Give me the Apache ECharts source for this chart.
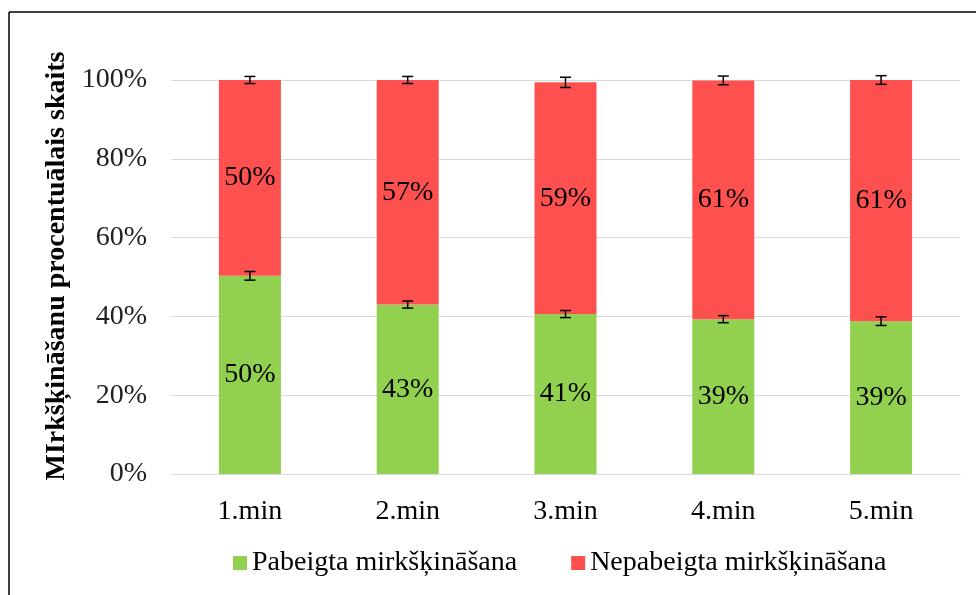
<!DOCTYPE html>
<html>
<head>
<meta charset="utf-8">
<script src="https://cdn.jsdelivr.net/npm/echarts@6/dist/echarts.min.js"></script>
<style>html,body{margin:0;padding:0;background:#fff;}#c{width:976px;height:595px;}</style>
</head>
<body>
<div id="c"></div>
<script>
var categories = ['1.min', '2.min', '3.min', '4.min', '5.min'];
var completed = [50.3, 43.0, 40.6, 39.3, 38.8];
var notCompleted = [49.7, 57.0, 58.8, 60.6, 61.2];
var completedLabels = ['50%', '43%', '41%', '39%', '39%'];
var notCompletedLabels = ['50%', '57%', '59%', '61%', '61%'];
var completedErr = [1.1, 0.9, 0.9, 0.9, 1.1];
var notCompletedErr = [0.9, 0.9, 1.3, 1.1, 1.1];
var yTicks = [0, 20, 40, 60, 80, 100];

var serif = '"Liberation Serif", "DejaVu Serif", serif';
var chart = echarts.init(document.getElementById('c'));

function errSeries(name, centers, errs) {
  return {
    type: 'custom',
    name: name,
    silent: true,
    z: 10,
    data: centers.map(function (c, i) { return [i, c, errs[i]]; }),
    renderItem: function (params, api) {
      var x = api.value(0), c = api.value(1), e = api.value(2);
      var hi = api.coord([x, c + e]);
      var lo = api.coord([x, c - e]);
      var hw = 5.5;
      var st = { stroke: '#000', lineWidth: 1.5 };
      return {
        type: 'group',
        children: [
          { type: 'line', shape: { x1: hi[0], y1: hi[1], x2: lo[0], y2: lo[1] }, style: st },
          { type: 'line', shape: { x1: hi[0] - hw, y1: hi[1], x2: hi[0] + hw, y2: hi[1] }, style: st },
          { type: 'line', shape: { x1: lo[0] - hw, y1: lo[1], x2: lo[0] + hw, y2: lo[1] }, style: st }
        ]
      };
    }
  };
}

var totals = completed.map(function (v, i) { return v + notCompleted[i]; });

chart.setOption({
  animation: false,
  backgroundColor: '#fff',
  textStyle: { fontFamily: serif },
  grid: { left: 171, right: 16, top: 80, bottom: 121 },
  legend: {
    top: 544,
    left: 228,
    icon: 'rect',
    itemWidth: 14,
    itemHeight: 14,
    itemGap: 54,
    data: ['Pabeigta mirkšķināšana', 'Nepabeigta mirkšķināšana'],
    textStyle: { fontFamily: serif, fontSize: 28, color: '#000' }
  },
  xAxis: {
    type: 'category',
    data: categories,
    axisLine: { show: true, lineStyle: { color: '#d9d9d9', width: 1.2 } },
    axisTick: { show: false },
    axisLabel: { fontFamily: serif, fontSize: 28, color: '#000', margin: 24 }
  },
  yAxis: {
    type: 'value',
    min: 0,
    max: 100,
    interval: 20,
    name: 'MIrkšķināšanu procentuālais skaits',
    nameLocation: 'middle',
    nameGap: 86,
    nameTextStyle: { fontFamily: serif, fontSize: 28, fontWeight: 'bold', color: '#000', padding: [0, 0, 0, 22] },
    axisLine: { show: false },
    axisTick: { show: false },
    splitLine: { lineStyle: { color: '#d9d9d9', width: 1.2 } },
    axisLabel: {
      fontFamily: serif, fontSize: 28, color: '#222', margin: 24,
      formatter: function (v) { return yTicks.indexOf(v) >= 0 ? v + '%' : ''; }
    }
  },
  series: [
    {
      name: 'Pabeigta mirkšķināšana',
      type: 'bar',
      stack: 'a',
      barWidth: 62,
      itemStyle: { color: '#92d050' },
      label: {
        show: true, position: 'inside', fontFamily: serif, fontSize: 28, color: '#000',
        formatter: function (p) { return completedLabels[p.dataIndex]; }
      },
      data: completed
    },
    {
      name: 'Nepabeigta mirkšķināšana',
      type: 'bar',
      stack: 'a',
      barWidth: 62,
      itemStyle: { color: '#ff5050' },
      label: {
        show: true, position: 'inside', fontFamily: serif, fontSize: 28, color: '#000',
        formatter: function (p) { return notCompletedLabels[p.dataIndex]; }
      },
      data: notCompleted
    },
    errSeries('errA', completed, completedErr),
    errSeries('errB', totals, notCompletedErr)
  ],
  graphic: [
    { type: 'line', shape: { x1: 9, y1: 12, x2: 9, y2: 595 }, style: { stroke: '#000', lineWidth: 1.5 } },
    { type: 'line', shape: { x1: 9, y1: 12, x2: 976, y2: 12 }, style: { stroke: '#000', lineWidth: 1.5 } }
  ]
});
</script>
</body>
</html>
